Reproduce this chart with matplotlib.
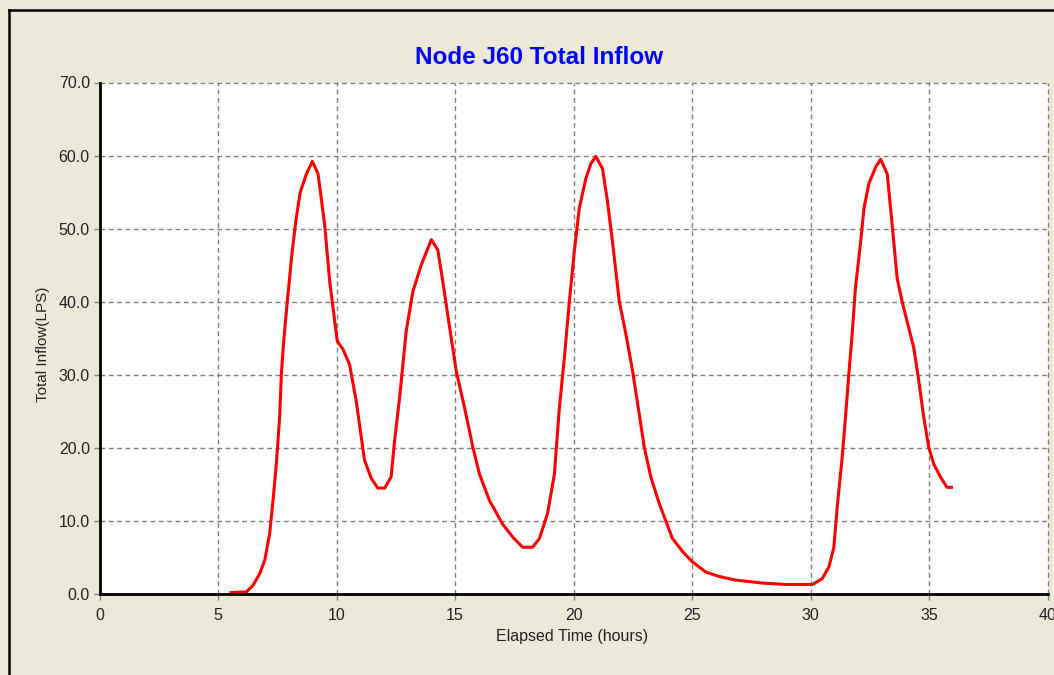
import numpy as np
import matplotlib
matplotlib.use('Agg')
import matplotlib.pyplot as plt
from matplotlib.lines import Line2D

# elapsed time (hours) and total inflow (LPS)
hours = [5.55, 6.2, 6.48, 6.76, 6.97, 7.18, 7.32, 7.46, 7.6, 7.67, 7.77, 7.91,
         8.1, 8.28, 8.47, 8.73, 8.98, 9.22, 9.5, 9.71, 9.89, 10.03, 10.27,
         10.55, 10.83, 11.18, 11.47, 11.74, 12.03, 12.3, 12.45, 12.66, 12.94,
         13.22, 13.57, 14.0, 14.27, 14.48, 14.7, 15.05, 15.4, 15.75, 16.03,
         16.45, 17.0, 17.43, 17.85, 18.27, 18.56, 18.9, 19.19, 19.4, 19.61,
         19.82, 20.03, 20.24, 20.52, 20.73, 20.94, 21.22, 21.43, 21.64, 21.93,
         22.21, 22.49, 22.77, 22.98, 23.26, 23.61, 24.17, 24.6, 25.01, 25.58,
         26.14, 26.84, 27.96, 28.95, 30.07, 30.49, 30.77, 30.98, 31.12, 31.33,
         31.47, 31.61, 31.75, 31.89, 32.11, 32.25, 32.46, 32.74, 32.95, 33.23,
         33.44, 33.65, 33.86, 34.14, 34.35, 34.56, 34.77, 34.98, 35.19, 35.48,
         35.75, 35.94]
inflow = [0.2, 0.3, 1.2, 2.8, 4.6, 8.3, 12.8, 17.8, 24.2, 30.0, 34.6, 39.6,
          46.0, 51.0, 55.0, 57.5, 59.2, 57.5, 50.5, 42.8, 38.2, 34.6, 33.5,
          31.4, 26.4, 18.3, 15.8, 14.5, 14.5, 16.0, 21.0, 26.9, 36.0,
          41.4, 45.0, 48.5, 47.1, 42.8, 38.0, 30.5, 25.5, 20.1, 16.4,
          12.8, 9.6, 7.8, 6.4, 6.4, 7.6, 11.0, 16.4, 25.5, 32.3,
          40.0, 46.9, 52.8, 56.9, 58.9, 59.9, 58.2, 53.7, 48.2, 40.0,
          35.5, 30.5, 24.6, 20.1, 16.0, 12.4, 7.6, 5.8, 4.4, 3.0,
          2.4, 1.9, 1.5, 1.3, 1.3, 2.1, 3.7, 6.4, 11.9, 18.7,
          24.2, 30.1, 35.5, 41.9, 48.2, 52.8, 56.2, 58.4, 59.5, 57.5,
          50.5, 43.2, 40.0, 36.4, 33.7, 29.2, 24.2, 20.1, 17.8, 16.0,
          14.6, 14.6]

x_ticks = [0, 5, 10, 15, 20, 25, 30, 35, 40]
y_ticks = [0, 10, 20, 30, 40, 50, 60, 70]

W, H = 1054, 675
bg = '#ECE9D8'
font = ['Liberation Sans', 'DejaVu Sans']

fig = plt.figure(figsize=(W / 100, H / 100), dpi=100, facecolor=bg)
ax = fig.add_axes([99.5 / W, (H - 594) / H, (1047.7 - 99.5) / W, (594 - 82.5) / H])
ax.set_facecolor('white')

ax.plot(hours, inflow, color='#FF0000', linewidth=2.2, zorder=3)

ax.set_xlim(0, 40)
ax.set_ylim(0, 70)
ax.set_xticks(x_ticks)
ax.set_yticks(y_ticks)
ax.set_xticklabels([str(t) for t in x_ticks], family=font, fontsize=11.5)
ax.set_yticklabels(['%.1f' % v for v in y_ticks], family=font, fontsize=11.5)
ax.tick_params(axis='both', direction='out', length=4, width=1,
               color='#808080', labelcolor='#222222')
ax.tick_params(axis='x', pad=6)
ax.tick_params(axis='y', pad=3)

# dashed grey grid, drawn over the top/right edges too
for t in x_ticks[1:]:
    ax.axvline(t, color='#808080', linewidth=1, linestyle=(0, (3.5, 2.5)),
               zorder=1, clip_on=False)
for v in y_ticks[1:]:
    ax.axhline(v, color='#808080', linewidth=1, linestyle=(0, (3.5, 2.5)),
               zorder=1, clip_on=False)

for side in ['top', 'right']:
    ax.spines[side].set_visible(False)
for side in ['left', 'bottom']:
    ax.spines[side].set_color('black')
    ax.spines[side].set_linewidth(2)
    ax.spines[side].set_zorder(4)

fig.text(572 / W, 1 - 637 / H, 'Elapsed Time (hours)', family=font,
         fontsize=11.5, color='#222222', ha='center', va='center')
fig.text(43 / W, 1 - 344 / H, 'Total Inflow(LPS)', family=font,
         fontsize=11, color='#222222', ha='center', va='center', rotation=90)

fig.text(539 / W, 1 - 57 / H, 'Node J60 Total Inflow', color='#0000FF',
         fontsize=17.5, fontweight='bold', family=font,
         ha='center', va='center')

# window frame lines at top and left
fig.add_artist(Line2D([9 / W, 1], [1 - 10 / H, 1 - 10 / H], color='black',
                      linewidth=1.8, transform=fig.transFigure))
fig.add_artist(Line2D([9 / W, 9 / W], [0, 1 - 10 / H], color='black',
                      linewidth=1.8, transform=fig.transFigure))

fig.savefig('out.png', dpi=100, facecolor=bg)
